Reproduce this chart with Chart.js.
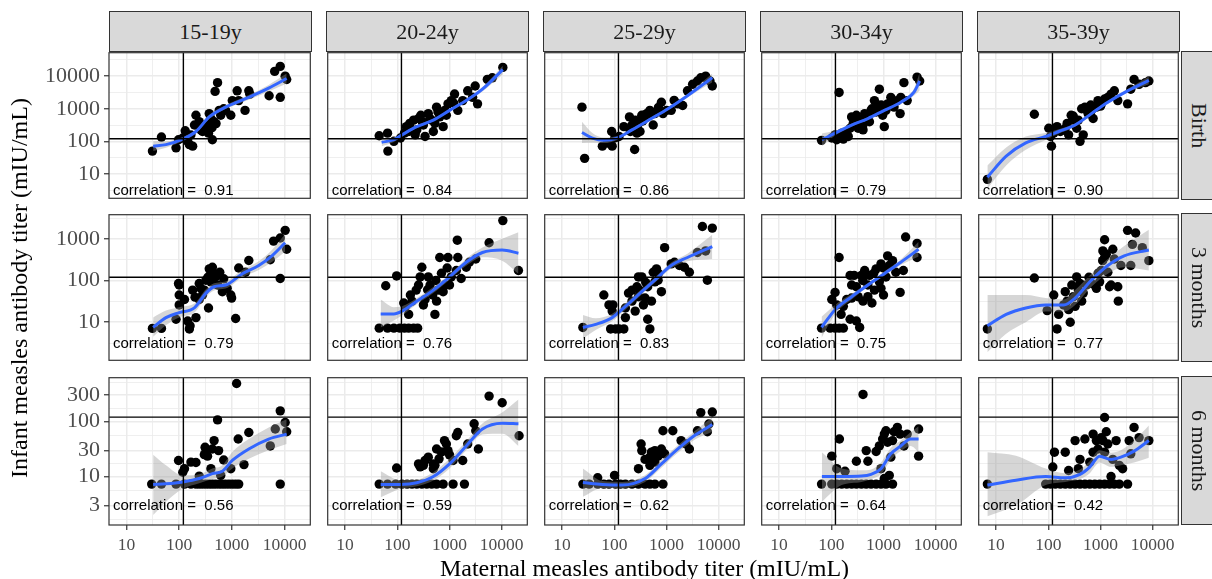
<!DOCTYPE html>
<html>
<head>
<meta charset="utf-8">
<script src="https://cdn.jsdelivr.net/npm/chart.js@4.4.0/dist/chart.umd.min.js"></script>
<style>
  body { margin: 0; width: 1212px; height: 579px; overflow: hidden; background: #fff; position: relative; font-family: 'Liberation Serif', 'Times New Roman', serif; }
  canvas { position: absolute; }
  .strip { position: absolute; box-sizing: border-box; background: #D9D9D9; border: 1px solid #333; display: flex; align-items: center; justify-content: center; font-size: 22px; color: #1A1A1A; }
  .strip.side { writing-mode: vertical-rl; }
  .title { position: absolute; text-align: center; font-size: 24px; color: #000; white-space: nowrap; }
</style>
</head>
<body>
<script>
// facets
const AGE_GROUPS = ['15-19y', '20-24y', '25-29y', '30-34y', '35-39y'];
const TIMEPOINTS = ['Birth', '3 months', '6 months'];

const BIRTH_R = ['0.91', '0.84', '0.86', '0.79', '0.90'];
const M3_R    = ['0.79', '0.76', '0.83', '0.75', '0.77'];
const M6_R    = ['0.56', '0.59', '0.62', '0.64', '0.42'];

// axes (log10)
const X_TICKS = [10, 100, 1000, 10000];
const X_MIN = 4.64, X_MAX = 30900;
const BIRTH_Y_TICKS = [10, 100, 1000, 10000];
const M3_Y_TICKS    = [10, 100, 1000];
const M6_Y_TICKS    = [3, 10, 30, 100, 300];
const Y_MIN = [1.78, 1.22, 1.32];
const Y_MAX = [52500, 3800, 624];
const REF_TITER = 120;   // protective threshold lines
const LABEL_Y = 3;       // where the correlation text sits

// points [maternal, infant]
const birth15 = [[31,50],[46,135],[87,63],[97,112],[130,210],[156,79],[180,71],[195,316],[208,630],[240,282],[277,200],[322,316],[360,178],[427,112],[400,500],[460,400],[372,708],[535,6300],[480,3400],[615,630],[760,890],[955,630],[1020,1780],[1260,3550],[1350,1780],[1780,890],[2100,3550],[2200,2800],[5100,2500],[6500,14000],[8300,20000],[8300,2240],[10300,10000],[11000,7900],[240,400],[167,158],[310,250],[575,890],[117,126],[145,100],[260,220],[350,300],[420,260],[700,1000],[500,350]];
const birth20 = [[45,148],[65,178],[66,50],[86,100],[115,126],[137,178],[149,282],[173,355],[205,447],[236,224],[255,500],[282,630],[316,316],[340,141],[392,708],[455,447],[490,200],[565,1120],[650,562],[755,282],[810,890],[935,1410],[1080,1780],[1250,2820],[1440,890],[1790,1780],[2230,3550],[2770,2240],[3100,5000],[3440,1410],[5300,7940],[6600,8900],[10500,18600],[525,355],[165,200],[220,158],[870,630],[300,400],[420,500],[600,800],[180,250],[1200,1500]];
const birth25 = [[24,1120],[27,30],[59,71],[74,89],[91,71],[89,200],[102,126],[123,141],[203,200],[195,562],[245,56],[218,316],[251,447],[290,355],[311,200],[336,631],[379,501],[416,708],[480,891],[556,316],[598,708],[690,891],[798,1585],[855,708],[1000,891],[1230,891],[1650,1413],[2040,1259],[2520,3548],[3160,5623],[3910,7079],[4530,8913],[5620,10000],[6060,7943],[7530,5012],[6800,7079],[152,282],[271,178],[450,600],[700,1100],[1400,1800],[350,420]];
const birth30 = [[65,107],[102,126],[118,158],[141,3162],[127,112],[158,178],[170,117],[197,200],[229,251],[245,562],[263,355],[302,631],[349,447],[405,224],[435,708],[502,562],[538,398],[578,891],[670,1778],[722,794],[774,1122],[833,3981],[961,631],[1035,282],[1113,891],[1197,1413],[1380,2239],[1590,1122],[1840,1778],[2080,708],[2140,2239],[2460,6310],[2840,1778],[4390,9333],[4930,7079],[211,141],[326,251],[600,1000],[900,1300],[400,300],[1500,1800]];
const birth35 = [[6.8,6.8],[54,676],[102,251],[110,141],[115,71],[127,178],[147,282],[170,200],[197,224],[229,355],[245,158],[274,631],[302,447],[349,251],[405,100],[435,1000],[467,158],[502,1122],[578,708],[670,891],[722,501],[833,1122],[894,1778],[1035,1413],[1197,1995],[1380,2239],[1590,2818],[1840,3548],[2140,1778],[3300,1413],[3800,3981],[4390,7943],[5480,5623],[7280,6310],[8430,7079],[211,251],[376,447],[300,600],[550,900],[1000,1200],[650,1300]];

const m3_15 = [[31,7.1],[46,7.1],[87,11.8],[97,85],[100,45],[100,26],[126,35],[145,10.7],[156,6.9],[161,8.2],[180,59],[208,12.9],[240,85],[258,65],[277,45],[300,59],[322,102],[372,191],[400,93],[427,209],[460,133],[492,123],[535,78],[590,158],[660,54],[815,65],[955,45],[990,38],[1180,12.3],[1350,200],[1820,158],[2100,302],[5370,316],[6200,885],[8300,112],[10300,1600],[11000,562],[8300,1050],[100,78],[360,22],[240,35],[200,40],[350,120],[450,150],[700,110]];
const m3_20 = [[45,7.2],[65,7.2],[86,7.2],[112,7.2],[137,7.2],[165,7.2],[205,7.2],[245,7.2],[60,75],[97,129],[133,29],[143,24],[178,45],[191,32],[230,59],[255,78],[295,209],[340,35],[392,122],[424,78],[476,45],[525,15.4],[565,32],[605,59],[650,357],[755,54],[810,78],[935,357],[1000,78],[1080,122],[1350,174],[1440,357],[1410,930],[1670,112],[2090,209],[2400,275],[3180,329],[5730,806],[10500,2740],[20900,174],[316,26],[165,15.4],[274,122],[380,60],[550,100],[700,150],[900,200]];
const m3_25 = [[25,7.5],[63,45],[79,26],[85,6.9],[94,26],[106,6.9],[123,6.9],[152,6.9],[163,22],[187,50],[218,59],[251,18.5],[271,71],[290,122],[336,122],[361,26],[388,38],[436,11.8],[480,6.9],[515,32],[556,158],[598,93],[643,191],[690,102],[798,54],[920,616],[1230,251],[1420,275],[1770,229],[2200,209],[2740,158],[3910,470],[4870,1980],[6060,102],[7530,1810],[5620,513],[163,12.9],[91,18.5],[218,32],[290,41],[436,71],[400,90],[700,150],[300,60]];
const m3_30 = [[65,7.2],[95,7.2],[118,7.2],[141,7.2],[170,7.2],[229,11.8],[302,10.7],[349,7.5],[141,357],[102,35],[118,52],[127,26],[154,15.4],[170,24],[197,35],[229,133],[245,78],[274,133],[302,71],[326,41],[377,133],[405,32],[435,174],[502,41],[538,133],[600,29],[670,59],[722,191],[833,93],[894,251],[1000,45],[1113,122],[1197,391],[1290,229],[1490,300],[1720,158],[2080,52],[2400,174],[2650,1110],[4390,777],[4390,357],[502,78],[245,38],[894,65],[400,100],[650,150],[1000,200]];
const m3_35 = [[6.8,6.9],[54,115],[95,19],[127,45],[147,6.9],[158,15.4],[197,26],[211,54],[229,32],[245,20],[263,10],[282,78],[302,41],[326,24],[349,122],[376,59],[405,85],[435,32],[467,50],[538,78],[670,85],[833,65],[962,93],[1035,174],[1110,513],[1197,950],[1290,430],[1380,158],[1490,71],[1720,562],[1840,329],[2140,71],[2190,32],[2460,229],[3300,1600],[3800,229],[4080,736],[4700,1380],[6320,616],[8430,300],[1197,357],[1590,78],[600,120],[900,150],[1100,300]];

const m6_15 = [[30,7.3],[46,7.3],[87,7.3],[126,7.3],[167,7.3],[208,7.3],[240,7.3],[277,7.3],[322,7.3],[372,7.3],[427,7.3],[492,7.3],[575,7.3],[660,7.3],[760,7.3],[880,7.3],[1020,7.3],[1180,7.3],[1350,7.3],[8300,7.3],[97,19.6],[126,13.9],[167,18.3],[208,18],[322,31.7],[345,23.5],[310,34],[400,13.9],[460,45],[560,29.6],[535,107],[427,31.7],[955,13.9],[1320,48],[1700,16.5],[2100,63],[5370,36],[6680,73],[8300,156],[10300,96],[11000,65],[1230,490],[117,12],[240,10.2],[615,10.5],[300,25],[700,20]];
const m6_20 = [[45,7.3],[65,7.3],[93,7.3],[123,7.3],[154,7.3],[191,7.3],[236,7.3],[295,7.3],[366,7.3],[455,7.3],[565,7.3],[755,7.3],[1170,7.3],[1930,7.3],[97,14.3],[255,17],[274,15],[340,19.6],[392,22.5],[490,17],[565,31.7],[630,21],[525,16],[870,39],[935,29.6],[1000,24.8],[1170,19.6],[1350,55],[1440,63],[1790,19.6],[2230,39],[2960,91],[3180,68],[3570,31.7],[5730,289],[10200,219],[21500,55],[490,13.9],[316,16],[700,28],[800,45]];
const m6_25 = [[25,7.3],[33,7.3],[48,7.3],[63,7.3],[79,7.3],[106,7.3],[131,7.3],[163,7.3],[218,7.3],[290,7.3],[388,7.3],[480,7.3],[598,7.3],[855,7.3],[48,9.5],[101,10.5],[326,39],[336,29.6],[388,20.5],[480,22.5],[515,27.7],[598,29.6],[690,23.5],[798,31.7],[855,68],[920,25.9],[1320,68],[1900,45],[2350,39],[2740,31.7],[3910,68],[4530,145],[6060,65],[6470,90],[7530,149],[480,16],[598,18.3],[290,13.9]];
const m6_30 = [[65,7.3],[102,7.3],[127,7.3],[158,7.3],[197,7.3],[245,7.3],[302,7.3],[377,7.3],[466,7.3],[578,7.3],[722,7.3],[894,7.3],[1113,7.3],[1490,7.3],[102,23.5],[143,48],[127,13.9],[183,12.5],[302,19],[405,310],[466,29.6],[502,19],[722,28.5],[833,36],[961,48],[1035,59],[1113,68],[1197,42],[1290,10.5],[1380,22.5],[1490,45],[1590,65],[1840,78],[2080,59],[2460,36],[2840,59],[4700,73],[4700,23.5],[894,13.9],[1035,9.2]];
const m6_35 = [[6.8,7.3],[89,7.3],[110,7.3],[136,7.3],[170,7.3],[211,7.3],[263,7.3],[326,7.3],[405,7.3],[502,7.3],[622,7.3],[775,7.3],[962,7.3],[1197,7.3],[1490,7.3],[1840,7.3],[2290,7.3],[3300,7.3],[122,14.9],[131,27.7],[211,27.7],[245,12.9],[326,45],[405,20.5],[502,48],[622,18.3],[722,27.7],[833,45],[894,31.7],[1035,51],[1110,45],[1197,118],[1290,65],[1380,39],[1590,10],[1720,20.5],[1990,45],[2290,16],[2650,13.9],[3540,45],[4390,78],[5480,51],[8430,45],[3800,25.9],[722,59],[376,13.9],[1197,27.7]];

// loess fits [maternal, fit, lower, upper]
const birth15Fit = [[32,71,50,100],[56,79,63,100],[110,112,97,130],[208,200,175,230],[372,560,480,650],[760,1120,980,1280],[2100,2240,1900,2650],[5000,4270,3400,5400],[11000,8500,6000,12000]];
const birth20Fit = [[50,93,70,125],[86,112,95,132],[123,158,140,178],[236,282,255,312],[490,447,410,490],[1000,890,810,980],[2090,1780,1600,1980],[4270,3980,3400,4650],[10500,15800,11500,21000]];
const birth25Fit = [[24,186,89,400],[38,126,90,180],[63,107,88,130],[113,126,110,145],[218,224,200,250],[515,501,450,560],[1070,1000,900,1110],[2520,2512,2200,2850],[7530,8913,6500,12000]];
const birth30Fit = [[66,112,70,175],[118,178,150,210],[245,316,285,350],[502,501,460,545],[1035,891,820,970],[2140,1585,1420,1770],[3800,3162,2500,4000],[4930,7079,3600,13000]];
const birth35Fit = [[6.8,7.9,3.5,18],[15.6,35,18,65],[37,89,55,140],[89,141,110,180],[158,200,170,235],[326,316,280,355],[670,708,630,790],[1380,1585,1420,1770],[3300,3548,3150,4000],[8430,7413,5600,9800]];

const m3_15Fit = [[32,7.5,4.5,13],[56,12.9,8.5,19],[100,17,13,23],[194,22,17,28],[322,50,40,62],[460,71,58,86],[760,78,64,95],[1580,146,120,178],[3240,229,180,290],[5760,391,280,540],[10300,806,500,1300]];
const m3_20Fit = [[48,15.8,7.5,35],[86,15.8,11,23],[123,18.5,14.5,24],[236,32,27,38],[490,59,50,70],[1000,122,105,142],[2090,275,225,335],[4270,470,360,620],[10200,540,300,1000],[20900,453,145,1450]];
const m3_25Fit = [[25,7.5,4,15],[44,8.9,6.5,12.5],[91,12.9,10.5,16],[163,24,20,29],[336,54,46,63],[598,102,88,118],[1230,229,195,270],[2520,357,290,440],[7530,650,330,1250]];
const m3_30Fit = [[65,7.5,4.2,13.5],[118,20,15.5,26],[245,41,35,48],[502,78,70,87],[1035,146,130,165],[2140,275,235,320],[4700,562,380,850]];
const m3_35Fit = [[6.8,8.2,1.9,45],[15.6,15.4,5.3,45],[37,22,10,45],[89,26,18,38],[197,26,18,35],[326,38,26,59],[670,102,71,146],[1380,229,146,330],[2840,391,209,670],[8430,540,174,1650]];

const m6_15Fit = [[32,7.2,2,25],[56,7.4,3.5,16],[117,8,6,10.5],[240,9.2,7.6,11],[427,11.3,9,14],[660,12.5,10,16],[1020,19.6,14,28],[2100,31.7,21,48],[5000,48,30,78],[11000,59,39,110]];
const m6_20Fit = [[48,7.2,4.2,12.5],[115,7.2,6,8.6],[236,7.7,6.7,8.8],[490,10,8.5,12],[1000,17,14,21],[2090,36,30,44],[4270,73,58,92],[10200,93,60,145],[20900,91,36,250]];
const m6_25Fit = [[25,7.8,4.3,14],[59,7.2,6.2,8.3],[141,7,6.2,8],[388,9.2,8,10.6],[798,17,14.5,20],[1650,31.7,27,37],[3390,55,46,66],[7530,88,65,120]];
const m6_30Fit = [[66,10,3.5,27.7],[158,10,7,14],[377,10.2,8,13],[578,11,9,13.5],[894,13.9,11,18],[1380,25.9,20,33],[2140,36,29,45],[3300,48,36,64],[4700,48,28,82]];
const m6_35Fit = [[6.8,7,1.9,27.7],[24,8.6,3,24],[89,10,7,14],[211,9.5,8,11.5],[405,11,9,13.5],[622,14.9,11.5,19],[962,23.5,18,30],[1590,20.5,15,27],[2460,22.5,16,30],[4390,29,18,45],[8430,45,22,85]];

const POINTS = [
  [birth15, birth20, birth25, birth30, birth35],
  [m3_15, m3_20, m3_25, m3_30, m3_35],
  [m6_15, m6_20, m6_25, m6_30, m6_35]
];
const FITS = [
  [birth15Fit, birth20Fit, birth25Fit, birth30Fit, birth35Fit],
  [m3_15Fit, m3_20Fit, m3_25Fit, m3_30Fit, m3_35Fit],
  [m6_15Fit, m6_20Fit, m6_25Fit, m6_30Fit, m6_35Fit]
];
const CORRS = [BIRTH_R, M3_R, M6_R];
const Y_TICKS = [BIRTH_Y_TICKS, M3_Y_TICKS, M6_Y_TICKS];

// layout
const PANEL_LEFT = [109, 326, 543, 760, 977];
const PANEL_TOP = [51, 213, 376];
const PANEL_W = 203, PANEL_H = 149;
const Y_AXIS_W = 80, X_AXIS_H = 40, PAD = 3;

const BLUE = '#3366FF';
const BAND = 'rgba(153,153,153,0.4)';
const GRID = '#EBEBEB';

// major ticks plus ggplot-style minor breaks halfway between them (log space)
function buildTicks(majors, min, max) {
  const minors = [];
  for (let i = 0; i < majors.length - 1; i++) minors.push(Math.sqrt(majors[i] * majors[i + 1]));
  minors.push(majors[0] / Math.sqrt(majors[1] / majors[0]));
  const n = majors.length;
  minors.push(majors[n - 1] * Math.sqrt(majors[n - 1] / majors[n - 2]));
  const ticks = majors.map(v => ({ value: v }))
    .concat(minors.map(v => ({ value: v, minor: true })))
    .filter(t => t.value >= min && t.value <= max);
  return ticks.sort((a, b) => a.value - b.value);
}

const panelDecor = {
  id: 'panelDecor',
  afterDatasetsDraw(chart, args, opts) {
    const { ctx, chartArea: a } = chart;
    const x = chart.scales.x, y = chart.scales.y;
    ctx.save();
    ctx.fillStyle = '#000';
    ctx.font = '15px "Liberation Sans", Arial, sans-serif';
    ctx.textBaseline = 'middle';
    ctx.fillText('correlation =  ' + opts.label, a.left + 4, y.getPixelForValue(LABEL_Y));
    const rx = x.getPixelForValue(REF_TITER), ry = y.getPixelForValue(REF_TITER);
    ctx.strokeStyle = '#000';
    ctx.lineWidth = 1.4;
    ctx.beginPath();
    ctx.moveTo(rx, a.top); ctx.lineTo(rx, a.bottom);
    ctx.moveTo(a.left, ry); ctx.lineTo(a.right, ry);
    ctx.stroke();
    ctx.strokeStyle = '#333';
    ctx.lineWidth = 1.2;
    ctx.strokeRect(a.left, a.top, a.right - a.left, a.bottom - a.top);
    ctx.restore();
  }
};

function gridOpts(showTicks) {
  return {
    color: c => GRID,
    lineWidth: c => (c.tick && c.tick.minor) ? 0.8 : 1.5,
    drawTicks: showTicks,
    tickLength: showTicks ? 5 : 0,
    tickColor: c => (c.tick && c.tick.minor) ? 'rgba(0,0,0,0)' : '#333',
    tickWidth: 1.2
  };
}

function makePanel(r, c) {
  const padL = c === 0 ? Y_AXIS_W : PAD;
  const padB = r === 2 ? X_AXIS_H : PAD;
  const canvas = document.createElement('canvas');
  canvas.width = PANEL_W + padL + PAD;
  canvas.height = PANEL_H + PAD + padB;
  canvas.style.left = (PANEL_LEFT[c] - padL) + 'px';
  canvas.style.top = (PANEL_TOP[r] - PAD) + 'px';
  document.body.appendChild(canvas);

  const fit = FITS[r][c];
  const curve = i => fit.map(p => ({ x: p[0], y: p[i] }));
  const smooth = { type: 'line', showLine: true, pointRadius: 0, cubicInterpolationMode: 'monotone' };
  const yTicks = Y_TICKS[r];

  new Chart(canvas, {
    type: 'scatter',
    data: {
      datasets: [
        { ...smooth, data: curve(1), borderColor: BLUE, borderWidth: 3, fill: false, order: 1 },
        { ...smooth, data: curve(3), borderColor: 'rgba(0,0,0,0)', borderWidth: 0, fill: '+1', backgroundColor: BAND, order: 2 },
        { ...smooth, data: curve(2), borderColor: 'rgba(0,0,0,0)', borderWidth: 0, fill: false, order: 2 },
        { type: 'scatter', data: POINTS[r][c].map(p => ({ x: p[0], y: p[1] })),
          pointRadius: 4.7, pointBackgroundColor: '#000', pointBorderColor: '#000', pointBorderWidth: 0, order: 3 }
      ]
    },
    options: {
      responsive: false,
      animation: false,
      events: [],
      layout: { padding: { left: c === 0 ? 0 : PAD, right: PAD, top: PAD, bottom: r === 2 ? 0 : PAD } },
      plugins: { legend: { display: false }, tooltip: { enabled: false }, panelDecor: { label: CORRS[r][c] } },
      scales: {
        x: {
          type: 'logarithmic', min: X_MIN, max: X_MAX,
          afterBuildTicks: s => { s.ticks = buildTicks(X_TICKS, X_MIN, X_MAX); },
          afterFit: s => { s.height = r === 2 ? X_AXIS_H : 0; s.paddingLeft = s.paddingRight = 0; },
          border: { display: false },
          grid: gridOpts(r === 2),
          ticks: {
            display: r === 2, autoSkip: false, maxRotation: 0, padding: 5,
            color: '#4D4D4D', font: { family: 'Liberation Serif', size: 17.5 },
            callback: (v, i, ts) => ts[i].minor ? '' : String(v)
          }
        },
        y: {
          type: 'logarithmic', min: Y_MIN[r], max: Y_MAX[r],
          afterBuildTicks: s => { s.ticks = buildTicks(yTicks, Y_MIN[r], Y_MAX[r]); },
          afterFit: s => { s.width = c === 0 ? Y_AXIS_W : 0; s.paddingTop = s.paddingBottom = 0; },
          border: { display: false },
          grid: gridOpts(c === 0),
          ticks: {
            display: c === 0, autoSkip: false, padding: 4,
            color: '#4D4D4D', font: { family: 'Liberation Serif', size: 22 },
            callback: (v, i, ts) => ts[i].minor ? '' : String(v)
          }
        }
      }
    },
    plugins: [panelDecor]
  });
}

for (let r = 0; r < 3; r++) for (let c = 0; c < 5; c++) makePanel(r, c);

// strips
AGE_GROUPS.forEach((g, c) => {
  const d = document.createElement('div');
  d.className = 'strip';
  d.style.left = PANEL_LEFT[c] + 'px';
  d.style.top = '11px';
  d.style.width = PANEL_W + 'px';
  d.style.height = '41px';
  d.textContent = g;
  document.body.appendChild(d);
});
TIMEPOINTS.forEach((t, r) => {
  const d = document.createElement('div');
  d.className = 'strip side';
  d.style.left = (PANEL_LEFT[4] + PANEL_W + 1) + 'px';
  d.style.top = PANEL_TOP[r] + 'px';
  d.style.width = '36px';
  d.style.height = PANEL_H + 'px';
  d.textContent = t;
  document.body.appendChild(d);
});

// axis titles
const xt = document.createElement('div');
xt.className = 'title';
xt.style.left = PANEL_LEFT[0] + 'px';
xt.style.width = (PANEL_LEFT[4] + PANEL_W - PANEL_LEFT[0]) + 'px';
xt.style.top = '553px';
xt.style.lineHeight = '30px';
xt.textContent = 'Maternal measles antibody titer (mIU/mL)';
document.body.appendChild(xt);

const yt = document.createElement('div');
yt.className = 'title';
yt.style.width = '500px';
yt.style.lineHeight = '30px';
yt.style.left = (19 - 250) + 'px';
yt.style.top = (288 - 15) + 'px';
yt.style.transform = 'rotate(-90deg)';
yt.textContent = 'Infant measles antibody titer (mIU/mL)';
document.body.appendChild(yt);
</script>
</body>
</html>
